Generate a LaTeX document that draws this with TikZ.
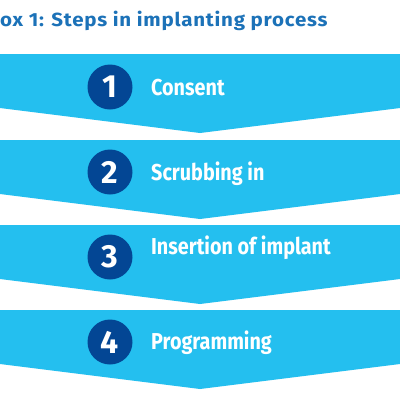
\documentclass[tikz,border=0pt]{standalone}
\usepackage{fontspec}
\setmainfont{Fira Sans}
\newfontfamily\labelfont[FakeStretch=0.86]{Fira Sans}
\newfontfamily\titlefont[FakeStretch=1.08,LetterSpace=4]{Fira Sans}
\definecolor{bandcyan}{HTML}{24BFEF}
\definecolor{circblue}{HTML}{034694}
\definecolor{titleblue}{HTML}{1C72B8}
\tikzset{
  band/.style={fill=bandcyan, draw=none},
  stepnum/.style={circle, fill=circblue, minimum size=45pt, inner sep=0pt, text=white, font=\fontsize{32}{32}\selectfont\bfseries},
  steplabel/.style={anchor=base west, inner sep=0pt, text=white, font=\labelfont\bfseries\fontsize{23}{23}\selectfont},
  titletext/.style={anchor=base west, inner sep=0pt, text=titleblue, font=\titlefont\bfseries\fontsize{19}{19}\selectfont}
}
\begin{document}
\begin{tikzpicture}[x=1pt,y=-1pt]
\useasboundingbox (0,0) rectangle (400,400);
\clip (0,0) rectangle (400,400);
\fill[white] (0,0) rectangle (400,400);
\node[titletext] (title) at (0,26) {ox 1: Steps in implanting process};
\foreach \t in {54,140,225,310}{
  \fill[band] (-5,\t) -- (405,\t) -- (405,{\t+53.4}) -- (200,{\t+79}) -- (-5,{\t+53.4}) -- cycle;
}
\node[stepnum] (c1) at (110,87) {1};
\node[stepnum] (c2) at (110,172) {2};
\node[stepnum] (c3) at (110,257) {3};
\node[stepnum] (c4) at (110,342) {4};
\node[steplabel] (l1) at (151,95) {Consent};
\node[steplabel] (l2) at (151,180) {Scrubbing in};
\node[steplabel] (l3) at (151,254) {Insertion of implant};
\node[steplabel] (l4) at (151,349) {Programming};
\end{tikzpicture}
\end{document}
